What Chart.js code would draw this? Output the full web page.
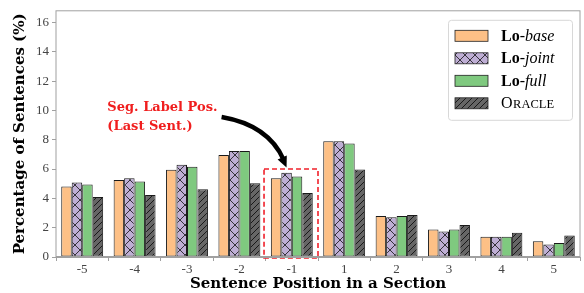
<!DOCTYPE html>
<html>
<head>
<meta charset="utf-8">
<script src="https://cdn.jsdelivr.net/npm/chart.js@4/dist/chart.umd.min.js"></script>
<style>
    html, body { margin: 0; padding: 0; background: #fff; }
    #wrap { width: 584px; height: 293px; }
</style>
</head>
<body>
<div id="wrap"><canvas id="posChart" width="584" height="293"></canvas></div>
<script>
// data
const positions = ["-5", "-4", "-3", "-2", "-1", "1", "2", "3", "4", "5"];
const loBase  = [4.81, 5.26, 5.95, 6.96, 5.37, 7.90, 2.80, 1.88, 1.39, 1.07];
const loJoint = [5.08, 5.37, 6.29, 7.23, 5.75, 7.90, 2.71, 1.74, 1.39, 0.85];
const loFull  = [4.95, 5.15, 6.15, 7.23, 5.50, 7.74, 2.80, 1.88, 1.39, 0.96];
const oracle  = [4.09, 4.23, 4.63, 5.03, 4.36, 5.97, 2.87, 2.19, 1.66, 1.46];
const yTicks  = [0, 2, 4, 6, 8, 10, 12, 14, 16];

const SERIF = "'Liberation Serif', 'DejaVu Serif', serif";
const WIDE_SERIF = "'DejaVu Serif', serif";
const AXIS_GRAY = "#a0a0a0";

// -----------------------------
// Fill patterns
// -----------------------------
function makePattern(bg, kind) {
    const size = kind === "cross" ? 10 : 6;
    const c = document.createElement("canvas");
    c.width = size; c.height = size;
    const g = c.getContext("2d");
    g.fillStyle = bg;
    g.fillRect(0, 0, size, size);
    g.strokeStyle = "#111";
    g.lineWidth = kind === "cross" ? 0.8 : 0.9;
    g.beginPath();
    if (kind === "cross") {
        g.moveTo(0, 0); g.lineTo(size, size);
        g.moveTo(size, 0); g.lineTo(0, size);
    } else {
        g.moveTo(-1, size + 1); g.lineTo(size + 1, -1);
        g.moveTo(-1, 1); g.lineTo(1, -1);
        g.moveTo(size - 1, size + 1); g.lineTo(size + 1, size - 1);
    }
    g.stroke();
    return document.getElementById("posChart").getContext("2d").createPattern(c, "repeat");
}

const fills = {
    base: "#fdc086",
    joint: makePattern("#beaed4", "cross"),
    full: "#7fc97f",
    oracle: makePattern("#666666", "hatch"),
};

// -----------------------------
// Frame, annotation and legend
// -----------------------------
const decorPlugin = {
    id: "decor",
    afterDatasetsDraw(chart) {
        const { ctx, chartArea: a, scales: { x, y } } = chart;
        ctx.save();

        // dashed highlight around the "-1" group
        const boxL = x.getPixelForValue(3.47), boxR = x.getPixelForValue(4.5);
        const boxT = y.getPixelForValue(6.0), boxB = y.getPixelForValue(0) + 1;
        ctx.strokeStyle = "#f0202a";
        ctx.lineWidth = 1.6;
        ctx.setLineDash([5, 3]);
        ctx.strokeRect(boxL, boxT, boxR - boxL, boxB - boxT);
        ctx.setLineDash([]);

        // label text
        ctx.fillStyle = "#f01e1e";
        ctx.font = "bold 13px " + WIDE_SERIF;
        ctx.textAlign = "left";
        ctx.textBaseline = "alphabetic";
        const tx = x.getPixelForValue(0.48);
        ctx.fillText("Seg. Label Pos.", tx, y.getPixelForValue(9.95));
        ctx.fillText("(Last Sent.)", tx, y.getPixelForValue(8.65));

        // curved arrow
        const sx = x.getPixelForValue(2.66), sy = y.getPixelForValue(9.55);
        const ex = x.getPixelForValue(3.9), ey = y.getPixelForValue(6.1);
        const cx = x.getPixelForValue(3.55), cy = y.getPixelForValue(9.0);
        ctx.strokeStyle = "#000";
        ctx.lineWidth = 4.5;
        ctx.lineCap = "butt";
        ctx.beginPath();
        ctx.moveTo(sx, sy);
        ctx.quadraticCurveTo(cx, cy, ex - 3, ey - 8);
        ctx.stroke();
        const ang = Math.atan2(ey - cy, ex - cx);
        ctx.fillStyle = "#000";
        ctx.beginPath();
        ctx.moveTo(ex, ey);
        ctx.lineTo(ex - 11 * Math.cos(ang) + 5 * Math.sin(ang), ey - 11 * Math.sin(ang) - 5 * Math.cos(ang));
        ctx.lineTo(ex - 11 * Math.cos(ang) - 5 * Math.sin(ang), ey - 11 * Math.sin(ang) + 5 * Math.cos(ang));
        ctx.closePath();
        ctx.fill();

        // plot frame
        ctx.strokeStyle = AXIS_GRAY;
        ctx.lineWidth = 1;
        ctx.strokeRect(a.left, a.top, a.right - a.left, a.bottom - a.top);
        ctx.lineWidth = 2;
        ctx.beginPath();
        ctx.moveTo(a.left, a.bottom);
        ctx.lineTo(a.right, a.bottom);
        ctx.stroke();
        ctx.restore();
    },
    afterDraw(chart) {
        const { ctx, chartArea: a } = chart;
        ctx.save();
        const lw = 124, lh = 100;
        const lx = a.right - 8 - lw, ly = a.top + 9;
        ctx.fillStyle = "rgba(255,255,255,0.85)";
        ctx.strokeStyle = "#d8d8d8";
        ctx.lineWidth = 1;
        ctx.beginPath();
        ctx.roundRect(lx + 0.5, ly + 0.5, lw, lh, 3);
        ctx.fill();
        ctx.stroke();

        const rows = [
            { fill: fills.base, name: "base" },
            { fill: fills.joint, name: "joint" },
            { fill: fills.full, name: "full" },
            { fill: fills.oracle, name: null },
        ];
        rows.forEach((r, i) => {
            const cy = ly + 16 + i * 22.5;
            ctx.fillStyle = r.fill;
            ctx.fillRect(lx + 7, cy - 5.5, 33, 11);
            ctx.strokeStyle = "#222";
            ctx.lineWidth = 0.8;
            ctx.strokeRect(lx + 7, cy - 5.5, 33, 11);

            ctx.fillStyle = "#000";
            ctx.textBaseline = "alphabetic";
            let tx = lx + 53;
            const base = cy + 5;
            if (r.name) {
                ctx.font = "bold 16px " + SERIF;
                ctx.fillText("Lo", tx, base);
                tx += ctx.measureText("Lo").width;
                ctx.font = "16px " + SERIF;
                ctx.fillText("-", tx, base);
                tx += ctx.measureText("-").width;
                ctx.font = "italic 16px " + SERIF;
                ctx.fillText(r.name, tx, base);
            } else {
                ctx.font = "16px " + SERIF;
                ctx.fillText("O", tx, base);
                tx += ctx.measureText("O").width;
                ctx.font = "12.5px " + SERIF;
                ctx.fillText("RACLE", tx + 0.5, base);
            }
        });
        ctx.restore();
    },
};

function barSet(label, data, fill) {
    return {
        label: label,
        data: data,
        backgroundColor: fill,
        borderColor: "#1a1a1a",
        borderWidth: 1,
        borderSkipped: false,
        barPercentage: 1.0,
        categoryPercentage: 0.8,
    };
}

new Chart(document.getElementById("posChart"), {
    type: "bar",
    data: {
        labels: positions,
        datasets: [
            barSet("Lo-base", loBase, fills.base),
            barSet("Lo-joint", loJoint, fills.joint),
            barSet("Lo-full", loFull, fills.full),
            barSet("Oracle", oracle, fills.oracle),
        ],
    },
    options: {
        responsive: false,
        animation: false,
        layout: { padding: { top: 7, right: 4, left: 0, bottom: 0 } },
        plugins: {
            legend: { display: false },
            tooltip: { enabled: false },
        },
        scales: {
            x: {
                offset: true,
                afterFit: (s) => { s.height = 36; },
                grid: { display: true, drawOnChartArea: false, drawTicks: true, tickLength: 4, color: AXIS_GRAY },
                border: { display: false },
                ticks: { color: "#444", padding: 1, font: { family: SERIF, size: 13 } },
                title: {
                    display: true,
                    text: "Sentence Position in a Section",
                    color: "#000",
                    padding: { top: 0, bottom: 0 },
                    font: { family: WIDE_SERIF, size: 15, weight: "bold" },
                },
            },
            y: {
                min: 0,
                max: 16.8,
                afterFit: (s) => { s.width = 56; },
                afterBuildTicks: (s) => { s.ticks = yTicks.map((v) => ({ value: v })); },
                grid: { display: true, drawOnChartArea: false, drawTicks: true, tickLength: 4, color: AXIS_GRAY },
                border: { display: false },
                ticks: { color: "#444", padding: 3, font: { family: SERIF, size: 13 } },
                title: {
                    display: true,
                    text: "Percentage of Sentences (%)",
                    color: "#000",
                    padding: { top: 11, bottom: 0 },
                    font: { family: WIDE_SERIF, size: 15, weight: "bold" },
                },
            },
        },
    },
    plugins: [decorPlugin],
});
</script>
</body>
</html>
